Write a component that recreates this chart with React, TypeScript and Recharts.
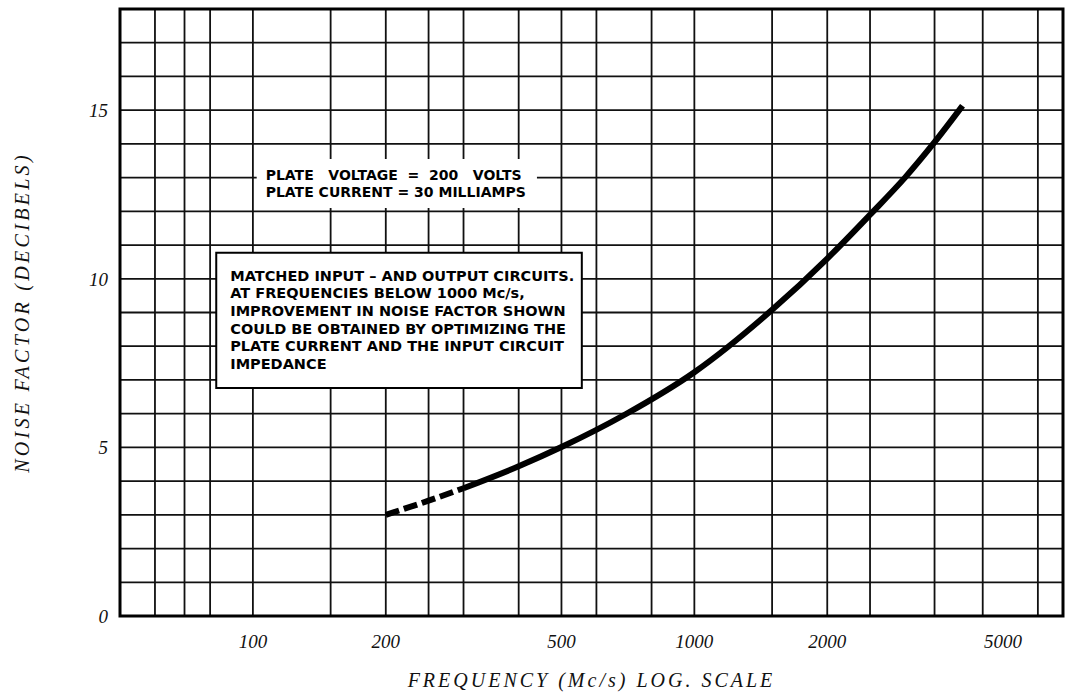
import React from "react";
import {
  LineChart,
  Line,
  XAxis,
  YAxis,
  CartesianGrid,
  ReferenceArea,
} from "recharts";

// frequency in Mc/s (log axis), noise factor in dB
const freqTicks = [100, 200, 500, 1000, 2000, 5000];
const noiseTicks = [0, 5, 10, 15];
const gridFreqs = [
  60, 70, 80, 90, 100, 150, 200, 250, 300, 350, 400, 450, 500, 600, 700, 800,
  900, 1000, 1500, 2000, 2500, 3000, 3500, 4000, 4500, 5000, 6000,
];
const gridNoise = [1, 2, 3, 4, 5, 6, 7, 8, 9, 10, 11, 12, 13, 14, 15, 16, 17];

const dashedFreq = [200, 250, 300];
const dashedNoise = [3.0, 3.42, 3.79];
const solidFreq = [300, 400, 500, 700, 1000, 1500, 2000, 2500, 3000, 3500, 4050];
const solidNoise = [3.79, 4.44, 5.01, 5.99, 7.23, 9.08, 10.6, 11.9, 13.0, 14.05, 15.13];

const conditionLines = ["PLATE   VOLTAGE  =  200   VOLTS", "PLATE CURRENT = 30 MILLIAMPS"];
const noteLines = [
  "MATCHED INPUT – AND OUTPUT CIRCUITS.",
  "AT FREQUENCIES BELOW 1000 Mc/s,",
  "IMPROVEMENT IN NOISE FACTOR SHOWN",
  "COULD BE OBTAINED BY OPTIMIZING THE",
  "PLATE CURRENT AND THE INPUT CIRCUIT",
  "IMPEDANCE",
];

const dashedData = dashedFreq.map((f, i) => ({ freq: f, noise: dashedNoise[i] }));
const solidData = solidFreq.map((f, i) => ({ freq: f, noise: solidNoise[i] }));

const serif = "'Liberation Serif', 'DejaVu Serif', serif";
const sans = "'DejaVu Sans', 'Liberation Sans', sans-serif";

const tickStyle = {
  fontFamily: serif,
  fontStyle: "italic",
  fontSize: 19,
  fill: "#111",
};

const BoxText = (props: any) => {
  const { viewBox, lines, padX, firstBaseline, lineGap, size } = props;
  if (!viewBox) return null;
  return (
    <text
      fontFamily={sans}
      fontWeight="bold"
      fontSize={size}
      fill="#000"
      style={{ whiteSpace: "pre" }}
    >
      {lines.map((l: string, i: number) => (
        <tspan key={i} x={viewBox.x + padX} y={viewBox.y + firstBaseline + i * lineGap}>
          {l}
        </tspan>
      ))}
    </text>
  );
};

const YTitle = (props: any) => {
  const { viewBox } = props;
  if (!viewBox) return null;
  const cx = viewBox.x + 22;
  const cy = viewBox.y + viewBox.height / 2;
  return (
    <text
      x={cx}
      y={cy}
      transform={`rotate(-90 ${cx} ${cy})`}
      textAnchor="middle"
      dominantBaseline="central"
      fontFamily={serif}
      fontStyle="italic"
      fontSize={20}
      letterSpacing={3.3}
      fill="#111"
    >
      NOISE FACTOR (DECIBELS)
    </text>
  );
};

const XTitle = (props: any) => {
  const { viewBox } = props;
  if (!viewBox) return null;
  return (
    <text
      x={viewBox.x + viewBox.width / 2}
      y={viewBox.y + 71}
      textAnchor="middle"
      fontFamily={serif}
      fontStyle="italic"
      fontSize={20}
      letterSpacing={3}
      fill="#111"
    >
      FREQUENCY (Mc/s) LOG. SCALE
    </text>
  );
};

export default function App() {
  return (
    <div style={{ position: "absolute", left: 0, top: 0, background: "#fff" }}>
      <LineChart
        width={1067}
        height={695}
        margin={{ top: 9, right: 4, left: 0, bottom: 0 }}
      >
        <CartesianGrid
          stroke="#111"
          strokeWidth={1.8}
          verticalValues={gridFreqs}
          horizontalValues={gridNoise}
        />
        <XAxis
          dataKey="freq"
          type="number"
          scale="log"
          domain={[50, 6840]}
          allowDataOverflow
          ticks={freqTicks}
          height={79}
          axisLine={false}
          tickLine={false}
          tickSize={6}
          tickMargin={13}
          tick={tickStyle}
          label={<XTitle />}
        />
        <YAxis
          type="number"
          domain={[0, 18]}
          ticks={noiseTicks}
          width={120}
          axisLine={false}
          tickLine={false}
          tickSize={6}
          tickMargin={6}
          tick={tickStyle}
          label={<YTitle />}
        />
        <ReferenceArea
          x1={102}
          x2={440}
          y1={12.1}
          y2={13.55}
          fill="#fff"
          fillOpacity={1}
          stroke="none"
          label={
            <BoxText lines={conditionLines} size={14} padX={9} firstBaseline={21} lineGap={17.3} />
          }
        />
        <ReferenceArea
          x1={82.6}
          x2={556}
          y1={6.76}
          y2={10.77}
          fill="#fff"
          fillOpacity={1}
          stroke="#000"
          strokeWidth={2}
          label={
            <BoxText lines={noteLines} size={14.5} padX={14} firstBaseline={28} lineGap={17.6} />
          }
        />
        <ReferenceArea
          x1={50}
          x2={6840}
          y1={0}
          y2={18}
          fill="none"
          stroke="#000"
          strokeWidth={3}
        />
        <Line
          data={dashedData}
          dataKey="noise"
          type="monotone"
          stroke="#000"
          strokeWidth={6}
          strokeDasharray="14 5"
          dot={false}
          activeDot={false}
          isAnimationActive={false}
        />
        <Line
          data={solidData}
          dataKey="noise"
          type="monotone"
          stroke="#000"
          strokeWidth={6}
          dot={false}
          activeDot={false}
          isAnimationActive={false}
        />
      </LineChart>
    </div>
  );
}
